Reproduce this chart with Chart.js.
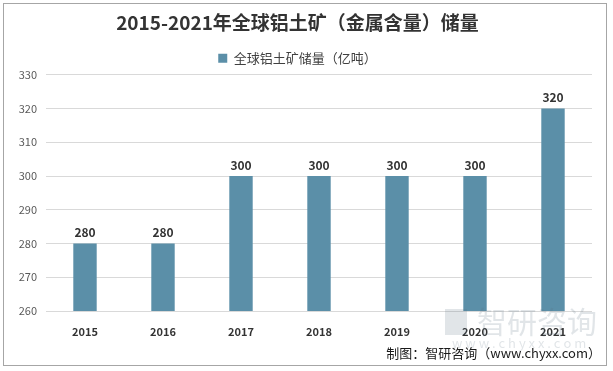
<!DOCTYPE html>
<html>
<head>
<meta charset="utf-8">
<script src="https://cdn.jsdelivr.net/npm/chart.js@4"></script>
<style>
  html, body { margin: 0; padding: 0; background: #fff; }
  #wrap { width: 613px; height: 371px; position: relative; }
</style>
</head>
<body>
<div id="wrap"><canvas id="myChart"></canvas></div>
<script>
const years = ['2015', '2016', '2017', '2018', '2019', '2020', '2021'];
const reserves = [280, 280, 300, 300, 300, 300, 320];
const yTicks = [260, 270, 280, 290, 300, 310, 320, 330];

const fontFamily = '"Microsoft YaHei", "Noto Sans CJK SC", "Noto Sans", sans-serif';
const barColor = '#5b8fa8';

// frame, value labels, watermark and source line
const extras = {
    id: 'extras',
    beforeDraw(chart) {
        const ctx = chart.ctx;
        ctx.save();
        ctx.strokeStyle = '#a6a6a6';
        ctx.lineWidth = 1;
        ctx.strokeRect(3.5, 3.5, 603, 362);
        ctx.restore();
    },
    afterDatasetsDraw(chart) {
        const ctx = chart.ctx;
        const meta = chart.getDatasetMeta(0);
        ctx.save();
        ctx.font = 'bold 12px ' + fontFamily;
        ctx.fillStyle = '#333';
        ctx.textAlign = 'center';
        ctx.textBaseline = 'bottom';
        meta.data.forEach((bar, i) => {
            ctx.fillText(reserves[i], bar.x, bar.y - 5);
        });

        // faint watermark
        ctx.globalAlpha = 0.18;
        ctx.fillStyle = '#5a6e80';
        ctx.font = '30px ' + fontFamily;
        ctx.textAlign = 'left';
        ctx.textBaseline = 'middle';
        ctx.fillText('智研咨询', 477, 322);
        ctx.font = '13px ' + fontFamily;
        ctx.fillText('w w w . c h y x x . c o m', 452, 343);
        ctx.fillRect(445, 309, 22, 26);
        ctx.globalAlpha = 1;

        ctx.fillStyle = '#1a1a1a';
        ctx.font = '13px ' + fontFamily;
        ctx.textAlign = 'right';
        ctx.fillText('制图：智研咨询（www.chyxx.com）', 601, 353);
        ctx.restore();
    }
};

new Chart(document.getElementById('myChart'), {
    type: 'bar',
    data: {
        labels: years,
        datasets: [{
            label: '全球铝土矿储量（亿吨）',
            data: reserves,
            backgroundColor: barColor,
            barPercentage: 0.3,
            categoryPercentage: 1
        }]
    },
    options: {
        responsive: true,
        maintainAspectRatio: false,
        animation: false,
        layout: { padding: { left: 3, right: 21, top: 0, bottom: 30 } },
        plugins: {
            title: {
                display: true,
                text: '2015-2021年全球铝土矿（金属含量）储量',
                color: '#333',
                font: { family: fontFamily, size: 19, weight: 'bold' },
                padding: { top: 11, bottom: 12 }
            },
            legend: {
                display: true,
                position: 'top',
                labels: {
                    color: '#404040',
                    font: { family: fontFamily, size: 13 },
                    boxWidth: 9,
                    boxHeight: 9,
                    padding: 6
                }
            },
            tooltip: { enabled: false }
        },
        scales: {
            x: {
                grid: { display: false },
                border: { display: false },
                ticks: {
                    color: '#333',
                    font: { family: fontFamily, size: 11, weight: 'bold' },
                    padding: 6
                },
                afterFit(scale) { scale.height = 30; }
            },
            y: {
                min: 260,
                max: 330,
                afterBuildTicks(scale) { scale.ticks = yTicks.map(v => ({ value: v })); },
                grid: { color: '#d9d9d9', drawTicks: false },
                border: { display: false },
                ticks: {
                    color: '#595959',
                    font: { family: fontFamily, size: 11 },
                    padding: 9
                },
                afterFit(scale) { scale.width = 43; }
            }
        }
    },
    plugins: [extras]
});
</script>
</body>
</html>
